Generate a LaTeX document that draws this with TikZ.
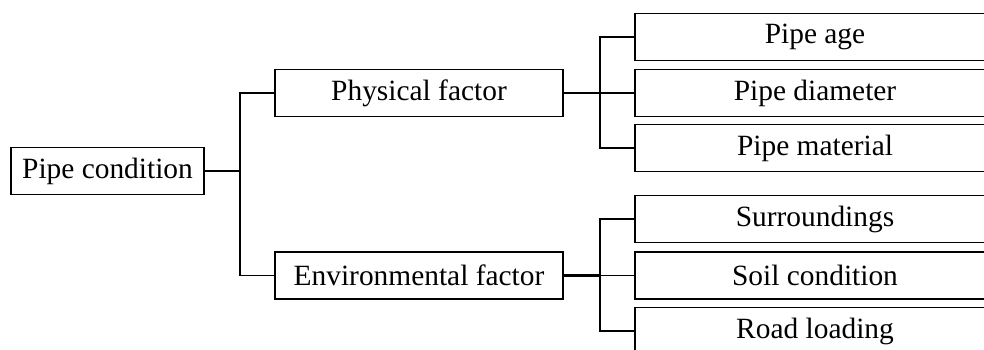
\documentclass[tikz,border=0pt]{standalone}
\usepackage{fontspec}
\setmainfont{Liberation Serif}
\usetikzlibrary{calc}
\begin{document}
\begin{tikzpicture}[x=1pt,y=-1pt,
  box/.style={draw, line width=1.4pt, inner sep=0pt, minimum height=47pt, font=\fontsize{29.4}{31}\selectfont},
  link/.style={line width=1.4pt},
  stub/.style={line width=2.2pt}]
\useasboundingbox (0,0) rectangle (984,350);
\clip (0,0) rectangle (984,350);
\node[box, minimum width=193pt] (root) at (107.5,171) {Pipe condition};
\node[box, minimum width=288pt] (phys) at (419,93) {Physical factor};
\node[box, minimum width=288pt] (env) at (419,275.5) {Environmental factor};
\node[box, minimum width=360pt] (a1) at (815,37) {Pipe age};
\node[box, minimum width=360pt] (a2) at (815,93) {Pipe diameter};
\node[box, minimum width=360pt] (a3) at (815,148) {Pipe material};
\node[box, minimum width=360pt] (b1) at (815,219) {Surroundings};
\node[box, minimum width=360pt] (b2) at (815,275.5) {Soil condition};
\node[box, minimum width=360pt] (b3) at (815,331) {Road loading};
\coordinate (j1) at (240,171);
\coordinate (k1) at (600,93);
\coordinate (k2) at (600,275.5);
\draw[stub] (root.east) -- (j1);
\draw[link] (phys.west) -| (j1) |- (env.west);
\draw[stub] (phys.east) -- (k1);
\draw[link] (k1) -- (a2.west);
\draw[link] (a1.west) -| (k1) |- (a3.west);
\draw[stub] (env.east) -- (k2);
\draw[link] (k2) -- (b2.west);
\draw[link] (b1.west) -| (k2) |- (b3.west);
\end{tikzpicture}
\end{document}
